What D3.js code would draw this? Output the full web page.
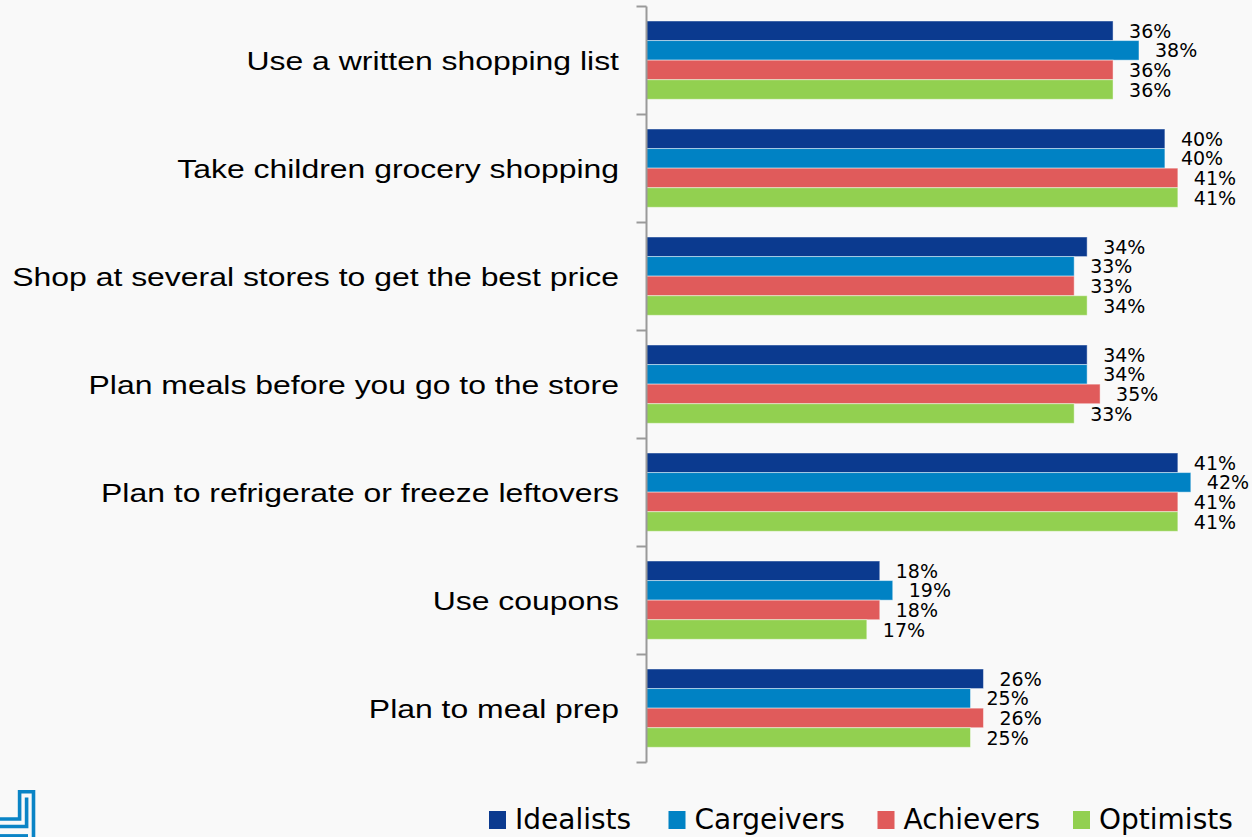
<!DOCTYPE html>
<html>
<head>
<meta charset="utf-8">
<script src="https://cdn.jsdelivr.net/npm/d3@7/dist/d3.min.js"></script>
<style>
  html, body { margin: 0; padding: 0; background: #f9f9f9; }
  svg { display: block; }
  text { font-family: "DejaVu Sans", Verdana, sans-serif; fill: #000; }
  text.cat { font-family: "Liberation Sans", Arial, sans-serif; }
</style>
</head>
<body>
<svg id="chart" width="1252" height="837"></svg>
<script>
// Shopping habits by shopper segment (% of respondents)
const categories = [
  "Use a written shopping list",
  "Take children grocery shopping",
  "Shop at several stores to get the best price",
  "Plan meals before you go to the store",
  "Plan to refrigerate or freeze leftovers",
  "Use coupons",
  "Plan to meal prep"
];
const seriesNames = ["Idealists", "Cargeivers", "Achievers", "Optimists"];
const idealists  = [36, 40, 34, 34, 41, 18, 26];
const cargeivers = [38, 40, 33, 34, 42, 19, 25];
const achievers  = [36, 41, 33, 35, 41, 18, 26];
const optimists  = [36, 41, 34, 33, 41, 17, 25];
const seriesValues = [idealists, cargeivers, achievers, optimists];
const colors = ["#0b3a8f", "#0082c4", "#e05b5b", "#92d050"];

const svg = d3.select("#chart");

const axisX = 646.5;
const x = d3.scaleLinear().domain([0, 45]).range([axisX, axisX + 45 * 12.96]);
const y = d3.scaleBand().domain(categories).range([6.5, 762.5]).padding(0);
const ySub = d3.scaleBand().domain(seriesNames).range([14.5, 92.8]).padding(0);

// bars with value labels
const groups = svg.append("g").selectAll("g")
  .data(categories)
  .join("g")
  .attr("transform", c => `translate(0,${y(c)})`);

groups.each(function(c, i) {
  const g = d3.select(this);
  seriesNames.forEach((s, j) => {
    const v = seriesValues[j][i];
    g.append("rect")
      .attr("x", x(0))
      .attr("y", ySub(s))
      .attr("width", x(v) - x(0))
      .attr("height", ySub.bandwidth())
      .attr("fill", colors[j])
      .attr("stroke", "rgba(255,255,255,0.45)")
      .attr("stroke-width", 1);
    g.append("text")
      .attr("x", x(v) + 16)
      .attr("y", ySub(s) + ySub.bandwidth() / 2)
      .attr("dominant-baseline", "central")
      .attr("font-size", 19)
      .text(v + "%");
  });
});

// category axis
const axis = svg.append("g").attr("stroke", "#9a9a9a").attr("stroke-width", 2);
axis.append("line")
  .attr("x1", axisX).attr("x2", axisX)
  .attr("y1", y.range()[0]).attr("y2", y.range()[1]);
const edges = categories.map(c => y(c)).concat([y.range()[1]]);
axis.selectAll("line.tick")
  .data(edges)
  .join("line")
  .attr("class", "tick")
  .attr("x1", axisX - 10).attr("x2", axisX)
  .attr("y1", d => d).attr("y2", d => d);

// category labels, drawn slightly widened
svg.append("g").selectAll("text")
  .data(categories)
  .join("text")
  .attr("class", "cat")
  .attr("transform", c => `translate(619,${y(c) + y.bandwidth() / 2}) scale(1.2,1)`)
  .attr("text-anchor", "end")
  .attr("dominant-baseline", "central")
  .attr("font-size", 26.6)
  .text(c => c);

// legend
const legendX = [489, 668.5, 877.5, 1073];
const legend = svg.append("g");
seriesNames.forEach((s, j) => {
  legend.append("rect")
    .attr("x", legendX[j]).attr("y", 811)
    .attr("width", 17).attr("height", 18)
    .attr("fill", colors[j]);
  legend.append("text")
    .attr("x", legendX[j] + 26).attr("y", 829)
    .attr("font-size", 28)
    .text(s);
});

// corner logo mark
const logo = svg.append("g")
  .attr("fill", "none")
  .attr("stroke", "#0a84c6")
  .attr("stroke-width", 3.6);
logo.append("path").attr("d", "M0 819 H19.6 V791.8 H33.5 V837");
logo.append("path").attr("d", "M0 826.5 H26.6 V797.5");
logo.append("path").attr("d", "M0 835.6 H28").attr("stroke-width", 3);
</script>
</body>
</html>
